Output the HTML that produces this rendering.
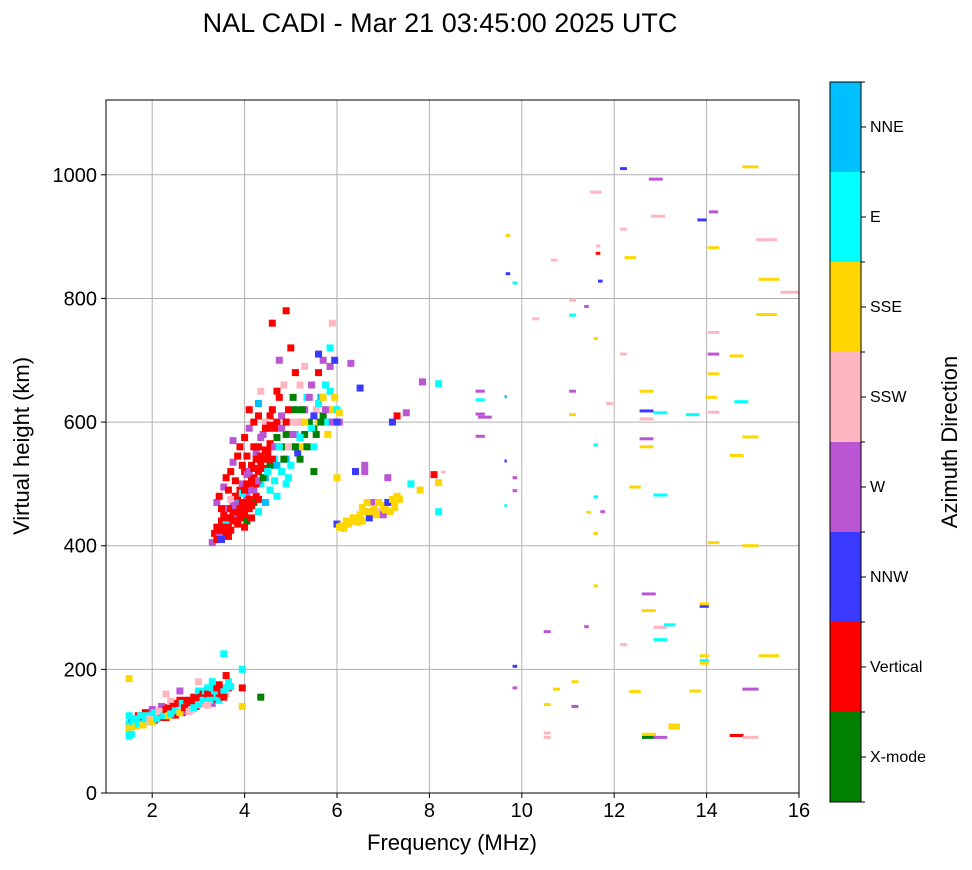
<!DOCTYPE html>
<html><head><meta charset="utf-8">
<style>
body{margin:0;background:#fff;font-family:"Liberation Sans",sans-serif;}
svg text{font-family:"Liberation Sans",sans-serif;}
</style></head>
<body>
<svg id="chart" width="972" height="865" xmlns="http://www.w3.org/2000/svg">
<text x="440" y="32" font-size="27" text-anchor="middle">NAL CADI - Mar 21 03:45:00 2025 UTC</text>
<g id="grid"></g>
<g id="marks"></g>
<rect x="106" y="100" width="693" height="693" fill="none" stroke="#000" stroke-width="1"/>
<g id="axes"></g>
<text x="452" y="850" font-size="22" text-anchor="middle">Frequency (MHz)</text>
<text transform="translate(29,446) rotate(-90)" font-size="22" text-anchor="middle">Virtual height (km)</text>
<g id="cbar"></g>
<text transform="translate(957,442) rotate(-90)" font-size="22" text-anchor="middle">Azimuth Direction</text>
</svg>
<script>
const directions=["X-mode","Vertical","NNW","W","SSW","SSE","E","NNE"];
const dirColors=["#008000","#ff0000","#3a3aff","#ba55d3","#ffb6c1","#ffd700","#00ffff","#00bfff"];
const xTicks=[2,4,6,8,10,12,14,16];
const yTicks=[0,200,400,600,800,1000];
// dense echoes: "freq,height,dir"
const dense="1.5,100,6;1.5,112,6;1.5,92,6;1.55,120,7;1.6,108,1;1.7,125,1;1.75,115,3;1.8,120,1;1.85,130,1;1.9,115,4;2.0,125,1;2.0,135,3;2.05,118,1;2.1,128,4;2.15,122,1;2.2,130,1;2.2,140,3;2.3,130,4;2.3,122,1;2.35,138,1;2.4,135,1;2.4,148,4;2.45,128,3;2.5,140,3;2.5,126,1;2.55,133,1;2.6,138,4;2.6,150,1;2.65,130,1;2.7,145,1;2.7,132,3;2.75,140,1;2.8,150,6;2.8,140,1;2.85,135,4;2.9,155,1;2.9,145,3;2.95,140,1;3.0,150,1;3.0,165,6;3.05,145,1;3.1,160,1;3.1,145,4;3.15,155,7;3.2,150,1;3.2,170,6;3.25,160,3;3.3,160,1;3.3,145,3;3.35,152,1;3.4,165,1;3.4,155,6;3.45,160,1;3.5,170,1;3.6,160,4;3.55,225,6;3.65,170,1;3.95,200,6;4.35,155,0;3.0,180,4;2.3,160,4;1.5,185,5;3.95,170,1;3.95,140,5;2.6,165,3;" +
"1.5,105,5;1.55,95,6;1.5,125,6;1.6,115,6;1.65,120,6;1.65,108,5;1.7,112,6;1.75,125,6;1.8,110,5;1.85,120,6;1.9,125,6;1.95,120,4;2.0,115,5;2.05,130,6;2.1,120,6;2.15,132,4;2.25,125,6;2.3,135,1;2.35,125,5;2.4,128,6;2.45,140,1;2.5,133,6;2.55,145,1;2.6,130,5;2.65,145,6;2.7,138,1;2.75,150,1;2.8,132,4;2.85,148,1;2.9,138,6;2.95,152,1;3.0,143,6;3.05,155,1;3.1,150,6;3.15,165,6;3.2,160,1;3.25,150,6;3.3,170,6;3.35,165,6;3.4,170,1;3.45,150,6;3.5,160,1;3.55,165,6;3.6,170,6;3.65,180,6;3.7,172,6;3.45,175,1;3.3,180,6;3.55,155,1;3.6,190,1;3.2,142,4;" +
"3.3,405,3;3.35,420,1;3.4,430,1;3.45,415,3;3.5,440,1;3.5,425,2;3.55,450,1;3.6,420,1;3.6,435,6;3.65,460,1;3.7,445,1;3.7,425,1;3.75,470,3;3.75,455,1;3.8,440,1;3.8,480,1;3.85,465,4;3.85,450,3;3.9,490,1;3.9,470,7;3.95,455,1;3.95,500,3;4.0,470,1;4.0,520,1;4.05,480,3;4.05,440,0;4.1,500,1;4.1,460,1;4.15,530,1;4.15,490,3;4.2,510,1;4.2,470,0;4.25,550,3;4.25,480,1;4.3,520,1;4.3,560,1;4.35,500,6;4.4,540,1;4.4,580,3;4.45,510,7;4.5,550,1;4.5,590,1;4.55,530,0;4.6,560,1;4.6,620,1;4.65,540,6;4.7,600,1;4.7,575,0;4.75,640,1;4.8,560,0;4.8,610,3;4.85,660,4;4.9,580,0;4.9,540,7;4.95,620,1;5.0,600,4;5.0,560,6;5.05,640,0;5.1,580,6;5.1,680,1;5.15,550,2;5.2,600,0;5.2,660,4;5.25,560,5;5.3,620,3;5.3,580,0;5.35,640,6;5.4,600,0;5.45,660,3;5.5,590,0;5.5,560,6;5.55,620,4;5.6,600,5;5.6,680,1;5.65,640,7;5.7,610,0;5.75,660,6;5.8,600,6;5.85,690,3;5.9,620,5;5.95,700,2;6.0,620,6;6.05,600,3;4.6,760,1;4.9,780,1;5.9,760,4;4.35,650,4;5.0,720,1;3.75,570,3;4.1,620,1;5.5,520,0;5.2,540,0;4.95,510,6;" +
"3.4,410,1;3.45,425,1;3.5,410,2;3.55,430,1;3.6,445,1;3.6,460,3;3.65,430,1;3.65,415,1;3.7,460,1;3.7,475,4;3.75,440,1;3.8,455,1;3.8,465,3;3.85,435,1;3.85,480,1;3.9,445,1;3.9,460,1;3.95,470,1;3.95,485,6;4.0,450,1;4.0,490,1;4.05,460,1;4.05,500,1;4.05,515,3;4.1,475,1;4.1,520,3;4.15,465,1;4.15,505,1;4.2,490,3;4.2,525,1;4.25,500,1;4.25,540,1;4.3,475,1;4.3,505,3;4.35,530,1;4.35,545,1;4.4,510,0;4.4,525,1;4.45,555,1;4.5,520,6;4.5,540,1;4.55,565,1;4.6,540,1;4.65,590,1;4.65,560,3;4.7,530,7;4.75,560,6;4.8,590,3;4.85,540,0;4.9,600,1;4.95,560,4;5.0,530,6;5.05,580,3;5.1,560,0;5.1,620,0;5.15,600,4;5.2,575,6;5.25,620,0;5.3,600,5;5.35,560,0;5.4,640,3;5.45,590,6;5.5,610,2;5.55,580,0;5.6,630,6;5.65,600,0;5.7,640,5;5.75,620,3;5.8,580,5;5.85,650,6;5.9,600,3;5.95,640,5;4.55,610,1;4.7,650,1;4.45,600,4;4.3,630,7;4.75,700,3;5.3,690,4;5.7,700,3;5.85,720,6;5.6,710,2;6.0,600,2;6.05,615,5;" +
"3.4,470,3;3.45,480,1;3.55,495,3;3.6,510,1;3.7,520,1;3.75,535,3;3.85,545,1;3.9,560,1;4.0,575,1;4.1,590,3;4.2,600,1;4.3,610,1;3.5,460,1;3.65,490,1;3.8,505,1;3.95,530,1;4.05,545,1;4.2,560,1;4.35,575,3;4.45,590,1;4.55,595,1;4.0,430,1;4.15,445,1;4.3,455,6;4.45,470,7;4.55,490,6;4.65,505,6;4.8,520,6;4.7,480,6;4.9,500,6";
const denseF=[],denseH=[],denseD=[];
dense.split(";").forEach(s=>{const p=s.split(",");denseF.push(+p[0]);denseH.push(+p[1]);denseD.push(+p[2]);});
const mid="6.0,435,2;6.05,430,5;6.1,432,5;6.2,440,5;6.3,440,5;6.35,445,5;6.4,445,5;6.5,450,5;6.55,462,5;6.6,455,5;6.7,445,2;6.75,470,3;6.8,460,5;6.9,470,5;6.95,455,4;7.0,465,5;7.1,470,2;7.15,455,5;7.2,475,5;7.25,462,5;7.3,480,5;7.0,450,3;6.4,520,2;6.6,520,3;6.6,530,3;7.1,510,3;7.6,500,6;7.8,490,5;8.2,455,6;8.1,515,1;8.2,502,5;6.0,510,5;7.3,610,1;7.2,600,2;7.5,615,3;6.5,655,2;6.3,695,3;7.85,665,3;8.2,662,6;6.15,428,5;6.25,435,5;6.45,438,5;6.55,440,5;6.7,455,5;6.85,450,5;7.05,458,5;7.25,470,5;7.35,475,5;6.65,470,5";
mid.split(";").forEach(s=>{const p=s.split(",");denseF.push(+p[0]);denseH.push(+p[1]);denseD.push(+p[2]);});
// sparse dashes: "freq,height,dir,spanMHz"
const sparse="9.7,902,5,0.1;9.7,840,2,0.1;9.85,825,6,0.1;10.3,767,4,0.15;10.7,862,4,0.15;11.1,773,6,0.15;11.1,797,4,0.15;11.4,787,3,0.1;11.6,972,4,0.25;11.65,885,4,0.1;11.65,873,1,0.1;11.7,828,2,0.1;11.6,735,5,0.1;12.2,1010,2,0.15;12.2,912,4,0.15;12.35,866,5,0.25;12.9,993,3,0.3;12.95,933,4,0.3;13.9,927,2,0.2;14.15,940,3,0.2;14.15,882,5,0.25;14.95,1013,5,0.35;15.3,895,4,0.45;15.35,831,5,0.45;15.8,810,4,0.4;15.3,774,5,0.45;12.2,710,4,0.15;11.9,630,4,0.15;11.1,650,3,0.15;11.1,612,5,0.15;12.7,650,5,0.3;12.7,618,2,0.3;12.7,605,4,0.3;13.0,615,6,0.3;12.7,573,3,0.3;12.7,560,5,0.3;13.0,482,6,0.3;12.45,495,5,0.25;13.7,612,6,0.3;14.15,745,4,0.25;14.15,710,3,0.25;14.15,678,5,0.25;14.1,640,5,0.25;14.15,616,4,0.25;14.65,707,5,0.3;14.75,633,6,0.3;14.65,546,5,0.3;14.95,576,5,0.35;14.95,400,5,0.35;14.15,405,5,0.25;9.1,650,3,0.2;9.1,636,6,0.2;9.1,613,3,0.2;9.2,608,3,0.3;9.1,577,3,0.2;9.65,641,7,0.05;9.65,537,2,0.05;9.85,510,3,0.1;9.85,489,3,0.1;9.65,465,6,0.05;11.6,563,6,0.1;11.6,479,6,0.1;11.45,454,5,0.1;11.75,455,3,0.1;11.6,420,5,0.1;11.6,335,5,0.1;11.4,269,3,0.1;10.55,261,3,0.15;9.85,205,2,0.1;9.85,170,3,0.1;10.75,168,5,0.15;10.55,143,5,0.15;11.15,180,5,0.15;11.15,140,3,0.15;10.55,97,4,0.15;10.55,90,4,0.15;12.2,240,4,0.15;12.75,322,3,0.3;12.75,295,5,0.3;13.0,268,4,0.3;13.2,272,6,0.25;13.0,248,6,0.3;12.45,164,5,0.25;12.75,95,5,0.3;12.75,90,0,0.3;13.0,90,3,0.3;13.3,110,5,0.25;13.3,105,5,0.25;13.95,302,2,0.2;13.95,306,5,0.2;13.95,222,5,0.2;13.95,214,6,0.2;13.95,210,5,0.2;13.75,165,5,0.25;14.65,93,1,0.3;14.95,90,4,0.35;14.95,168,3,0.35;15.35,222,5,0.45;8.3,519,4,0.1";
const spF=[],spH=[],spD=[],spW=[];
sparse.split(";").forEach(s=>{const p=s.split(",");spF.push(+p[0]);spH.push(+p[1]);spD.push(+p[2]);spW.push(+p[3]);});

const X0=106,X1=799,Y0=793,Y1=100;
const xs=f=>X0+(f-1)/(16-1)*(X1-X0);
const ys=h=>Y0-h/1121*(Y0-Y1);
const NS="http://www.w3.org/2000/svg";
function mk(tag,attrs,parent){const e=document.createElementNS(NS,tag);for(const k in attrs)e.setAttribute(k,attrs[k]);parent.appendChild(e);return e;}
const grid=document.getElementById("grid"),axes=document.getElementById("axes"),marks=document.getElementById("marks");
xTicks.forEach(t=>{const x=xs(t);
 const g=mk("line",{x1:x,x2:x,y1:Y1,y2:Y0,stroke:"#b0b0b0","stroke-width":1},grid);
 
 
 mk("line",{x1:x,x2:x,y1:Y0,y2:Y0+5,stroke:"#000"},axes);
 const l=mk("text",{x:x,y:Y0+24,"font-size":20,"text-anchor":"middle"},axes);l.textContent=t;
 
 });
yTicks.forEach(t=>{const y=ys(t);
 const g=mk("line",{x1:X0,x2:X1,y1:y,y2:y,stroke:"#b0b0b0","stroke-width":1},grid);
 
 
 mk("line",{x1:X0-5,x2:X0,y1:y,y2:y,stroke:"#000"},axes);
 const l=mk("text",{x:X0-9,y:y+7,"font-size":20,"text-anchor":"end"},axes);l.textContent=t;
 
 });
denseF.forEach((f,i)=>{const x=xs(f),y=ys(denseH[i]);
 const r=mk("rect",{x:x-3.5,y:y-3.5,width:7,height:7,fill:dirColors[denseD[i]]},marks);
 
 });
spF.forEach((f,i)=>{const x=xs(f),y=ys(spH[i]),w=Math.max(2,xs(f+spW[i])-x);
 const r=mk("rect",{x:x-w/2,y:y-1.5,width:w,height:3,fill:dirColors[spD[i]]},marks);
 
 });
const cb=document.getElementById("cbar");const CY0=82,CY1=802,CX=830,CW=31,bh=(CY1-CY0)/directions.length;
directions.forEach((d,i)=>{const y=CY1-(i+1)*bh;
 const r=mk("rect",{x:CX,y:y,width:CW,height:bh,fill:dirColors[i]},cb);
 
 
 mk("line",{x1:CX+CW,x2:CX+CW+5,y1:y+bh/2,y2:y+bh/2,stroke:"#000"},cb);
 mk("line",{x1:CX+CW,x2:CX+CW+4,y1:y,y2:y,stroke:"#000"},cb);
 const t=mk("text",{x:CX+CW+9,y:y+bh/2+5,"font-size":16},cb);t.textContent=d;
 
 });
mk("line",{x1:CX+CW,x2:CX+CW+4,y1:CY1,y2:CY1,stroke:"#000"},cb);
mk("rect",{x:CX,y:CY0,width:CW,height:CY1-CY0,fill:"none",stroke:"#000"},cb);
</script>
</body></html>
